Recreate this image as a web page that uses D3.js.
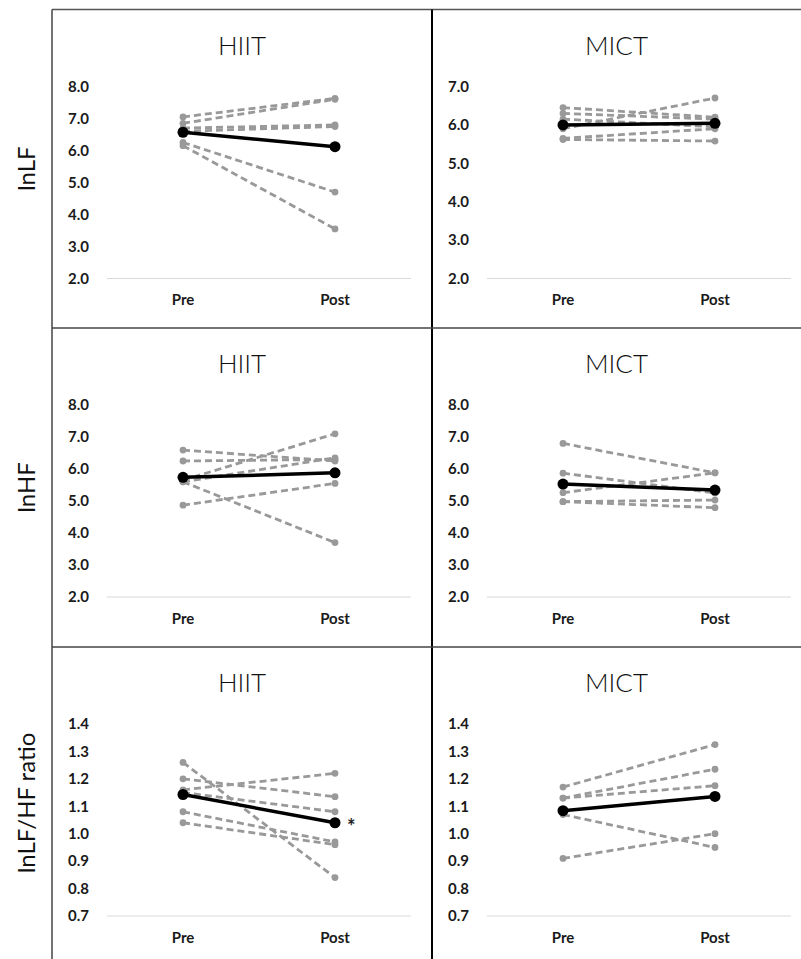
<!DOCTYPE html>
<html>
<head>
<meta charset="utf-8">
<script src="https://cdn.jsdelivr.net/npm/d3@7"></script>
<style>
  body { margin: 0; background: #fff; }
  svg { display: block; }
</style>
</head>
<body>
<div id="chart"></div>
<script>
// phases on the x axis, groups in the columns, measures in the rows
const phases = [ 'Pre', 'Post' ];
const groups = [ 'HIIT', 'MICT' ];
const measures = [ 'lnLF', 'lnHF', 'lnLF/HF ratio' ];

// y ticks per panel
const lnLfHiitTicks = [ 2, 3, 4, 5, 6, 7, 8 ];
const lnLfMictTicks = [ 2, 3, 4, 5, 6, 7 ];
const lnHfHiitTicks = [ 2, 3, 4, 5, 6, 7, 8 ];
const lnHfMictTicks = [ 2, 3, 4, 5, 6, 7, 8 ];
const ratioHiitTicks = [ 0.7, 0.8, 0.9, 1.0, 1.1, 1.2, 1.3, 1.4 ];
const ratioMictTicks = [ 0.7, 0.8, 0.9, 1.0, 1.1, 1.2, 1.3, 1.4 ];

// individual subjects (pre / post) and group mean
const lnLfHiitPre  = [ 7.05, 6.85, 6.70, 6.60, 6.25, 6.15 ];
const lnLfHiitPost = [ 7.63, 7.60, 6.80, 6.75, 4.70, 3.55 ];
const lnLfHiitMean = [ 6.57, 6.12 ];

const lnLfMictPre  = [ 6.45, 6.30, 6.15, 5.90, 5.65, 5.62 ];
const lnLfMictPost = [ 6.20, 6.15, 5.95, 6.70, 5.90, 5.58 ];
const lnLfMictMean = [ 6.00, 6.04 ];

const lnHfHiitPre  = [ 6.59, 6.25, 5.65, 5.60, 5.60, 4.87 ];
const lnHfHiitPost = [ 6.25, 6.30, 7.10, 6.35, 3.70, 5.55 ];
const lnHfHiitMean = [ 5.74, 5.88 ];

const lnHfMictPre  = [ 6.80, 5.87, 5.26, 4.98, 4.98 ];
const lnHfMictPost = [ 5.88, 5.25, 5.88, 5.03, 4.79 ];
const lnHfMictMean = [ 5.53, 5.34 ];

const ratioHiitPre  = [ 1.26, 1.20, 1.16, 1.15, 1.08, 1.04 ];
const ratioHiitPost = [ 0.84, 1.135, 1.22, 1.08, 0.97, 0.96 ];
const ratioHiitMean = [ 1.143, 1.040 ];

const ratioMictPre  = [ 1.17, 1.13, 1.13, 1.07, 0.91 ];
const ratioMictPost = [ 1.325, 1.235, 1.175, 0.95, 1.00 ];
const ratioMictMean = [ 1.084, 1.136 ];

// significance marks next to the post mean
const marks = [ { row: 2, col: 0, text: '*' } ];

const panels = [
  { row: 0, col: 0, ticks: lnLfHiitTicks, pre: lnLfHiitPre, post: lnLfHiitPost, mean: lnLfHiitMean },
  { row: 0, col: 1, ticks: lnLfMictTicks, pre: lnLfMictPre, post: lnLfMictPost, mean: lnLfMictMean },
  { row: 1, col: 0, ticks: lnHfHiitTicks, pre: lnHfHiitPre, post: lnHfHiitPost, mean: lnHfHiitMean },
  { row: 1, col: 1, ticks: lnHfMictTicks, pre: lnHfMictPre, post: lnHfMictPost, mean: lnHfMictMean },
  { row: 2, col: 0, ticks: ratioHiitTicks, pre: ratioHiitPre, post: ratioHiitPost, mean: ratioHiitMean },
  { row: 2, col: 1, ticks: ratioMictTicks, pre: ratioMictPre, post: ratioMictPost, mean: ratioMictMean }
];

const width = 801;
const height = 959;
const frameLeft = 52;
const frameTop = 9.5;
const colLeft = [ 52, 432 ];
const colRight = [ 432, 801 ];
const rowTop = [ 9.5, 328, 647 ];

const svg = d3.select( '#chart' )
  .append( 'svg' )
  .attr( 'width', width )
  .attr( 'height', height );

svg.append( 'rect' )
  .attr( 'width', width )
  .attr( 'height', height )
  .attr( 'fill', 'white' );

const tickFont = 'Lato, "Open Sans", sans-serif';
const fmt = d3.format( '.1f' );

panels.forEach( p => {

  const left = colLeft[ p.col ];
  const top = rowTop[ p.row ];
  const g = svg.append( 'g' );

  const x = d3.scaleBand()
    .domain( phases )
    .range( [ left + 55, left + 55 + 304 ] );

  const y = d3.scaleLinear()
    .domain( d3.extent( p.ticks ) )
    .range( [ top + 269, top + 77 ] );

  const cx = d => x( d ) + x.bandwidth() / 2;

  // title
  g.append( 'text' )
    .attr( 'x', ( colLeft[ p.col ] + colRight[ p.col ] ) / 2 )
    .attr( 'y', top + 45 )
    .attr( 'text-anchor', 'middle' )
    .style( 'font-family', tickFont )
    .style( 'font-weight', 300 )
    .style( 'font-size', '26px' )
    .attr( 'fill', '#111' )
    .text( groups[ p.col ] );

  // baseline
  g.append( 'line' )
    .attr( 'x1', x.range()[ 0 ] )
    .attr( 'x2', x.range()[ 1 ] )
    .attr( 'y1', y( p.ticks[ 0 ] ) )
    .attr( 'y2', y( p.ticks[ 0 ] ) )
    .attr( 'stroke', '#d9d9d9' )
    .attr( 'stroke-width', 1.2 );

  // y tick labels
  const yAxis = g.append( 'g' )
    .attr( 'transform', `translate(${left + 37},0)` )
    .call( d3.axisLeft( y ).tickValues( p.ticks ).tickFormat( fmt ).tickSize( 0 ).tickPadding( 0 ) );
  yAxis.select( '.domain' ).remove();
  yAxis.selectAll( 'text' )
    .style( 'font-family', tickFont )
    .style( 'font-weight', 700 )
    .style( 'font-size', '15px' )
    .attr( 'fill', '#1a1a1a' );

  // x tick labels
  const xAxis = g.append( 'g' )
    .attr( 'transform', `translate(0,${y( p.ticks[ 0 ] ) + 16})` )
    .call( d3.axisBottom( x ).tickSize( 0 ).tickPadding( 0 ) );
  xAxis.select( '.domain' ).remove();
  xAxis.selectAll( 'text' )
    .style( 'font-family', tickFont )
    .style( 'font-weight', 700 )
    .style( 'font-size', '15px' )
    .attr( 'fill', '#1a1a1a' );

  // individual subjects
  const subjects = p.pre.map( ( v, i ) => [ v, p.post[ i ] ] );
  const line = d3.line()
    .x( ( d, i ) => cx( phases[ i ] ) )
    .y( d => y( d ) );

  g.selectAll( 'path.subject' )
    .data( subjects )
    .join( 'path' )
    .attr( 'class', 'subject' )
    .attr( 'd', line )
    .attr( 'fill', 'none' )
    .attr( 'stroke', '#999' )
    .attr( 'stroke-width', 2.8 )
    .attr( 'stroke-dasharray', '7,4' );

  subjects.forEach( s => {
    g.selectAll( null )
      .data( s )
      .join( 'circle' )
      .attr( 'cx', ( d, i ) => cx( phases[ i ] ) )
      .attr( 'cy', d => y( d ) )
      .attr( 'r', 3.4 )
      .attr( 'fill', '#999' );
  } );

  // mean
  g.append( 'path' )
    .datum( p.mean )
    .attr( 'd', line )
    .attr( 'fill', 'none' )
    .attr( 'stroke', '#000' )
    .attr( 'stroke-width', 3.5 );

  g.selectAll( 'circle.mean' )
    .data( p.mean )
    .join( 'circle' )
    .attr( 'class', 'mean' )
    .attr( 'cx', ( d, i ) => cx( phases[ i ] ) )
    .attr( 'cy', d => y( d ) )
    .attr( 'r', 5.5 )
    .attr( 'fill', '#000' );

  marks.filter( m => m.row === p.row && m.col === p.col ).forEach( m => {
    g.append( 'text' )
      .attr( 'x', cx( 'Post' ) + 12 )
      .attr( 'y', y( p.mean[ 1 ] ) + 11 )
      .style( 'font-family', tickFont )
      .style( 'font-weight', 700 )
      .style( 'font-size', '20px' )
      .attr( 'fill', '#222' )
      .text( m.text );
  } );

} );

// row labels
measures.forEach( ( m, i ) => {
  const mid = ( rowTop[ i ] + ( rowTop[ i + 1 ] || height ) ) / 2;
  svg.append( 'text' )
    .attr( 'transform', `translate(35,${mid}) rotate(-90)` )
    .attr( 'text-anchor', 'middle' )
    .style( 'font-family', tickFont )
    .style( 'font-size', '24px' )
    .attr( 'fill', '#111' )
    .text( m );
} );

// frame
const frame = svg.append( 'g' ).attr( 'stroke', '#000' );
frame.append( 'line' ).attr( 'x1', frameLeft ).attr( 'x2', width ).attr( 'y1', frameTop ).attr( 'y2', frameTop ).attr( 'stroke-width', 1.5 ).attr( 'stroke', '#555' );
frame.append( 'line' ).attr( 'x1', frameLeft ).attr( 'x2', frameLeft ).attr( 'y1', frameTop ).attr( 'y2', height ).attr( 'stroke-width', 1.5 ).attr( 'stroke', '#444' );
frame.append( 'line' ).attr( 'x1', colLeft[ 1 ] ).attr( 'x2', colLeft[ 1 ] ).attr( 'y1', frameTop ).attr( 'y2', height ).attr( 'stroke-width', 2 );
rowTop.slice( 1 ).forEach( t => {
  frame.append( 'line' ).attr( 'x1', frameLeft ).attr( 'x2', width ).attr( 'y1', t ).attr( 'y2', t ).attr( 'stroke-width', 1.5 ).attr( 'stroke', '#444' );
} );
</script>
</body>
</html>
